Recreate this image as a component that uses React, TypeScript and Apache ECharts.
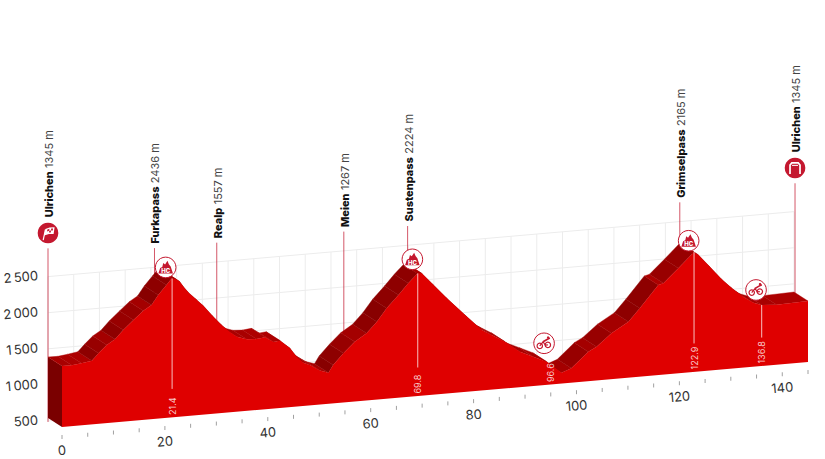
import React, { useEffect, useRef } from "react";
import * as echarts from "echarts";

// Profile (km, metres)
const profileKm = [0, 1.9, 3.8, 5.8, 7.1, 8.7, 10.3, 11.9, 13.9, 15.8, 17.4, 18.7, 20.3, 21.3, 22.2, 22.9, 23.6, 24.6, 26.2, 27.5, 29.4, 31, 32.7, 34, 35.9, 37.8, 39.5, 41.1, 42.4, 44.3, 45.6, 46.9, 48.2, 50.1, 51.8, 52.7, 54.7, 56.9, 59.2, 61.2, 63.1, 65.4, 67.3, 69.1, 69.9, 72.2, 74.8, 78.7, 81.6, 83.5, 86.1, 89, 91.6, 94.2, 97.1, 99, 102.3, 103.9, 106.8, 110.1, 112.3, 115.9, 116.9, 119.8, 122.8, 123.7, 125.9, 128.2, 130.2, 132.4, 134.4, 136, 138.9, 145];
const profileElev = [1345, 1342, 1359, 1382, 1476, 1582, 1651, 1770, 1896, 2013, 2082, 2212, 2341, 2425, 2407, 2370, 2296, 2208, 2097, 2005, 1845, 1720, 1609, 1540, 1492, 1483, 1497, 1422, 1432, 1316, 1191, 1100, 1060, 970, 931, 1032, 1181, 1328, 1430, 1579, 1752, 1922, 2072, 2199, 2195, 2019, 1818, 1539, 1337, 1256, 1147, 990, 906, 820, 650, 698, 909, 968, 1136, 1276, 1447, 1748, 1765, 1954, 2160, 2115, 1939, 1751, 1614, 1483, 1388, 1346, 1332, 1345];

const xTickKm = [0, 5, 10, 15, 20, 25, 30, 35, 40, 45, 50, 55, 60, 65, 70, 75, 80, 85, 90, 95, 100, 105, 110, 115, 120, 125, 130, 135, 140, 145];
const xLabelKm = [0, 20, 40, 60, 80, 100, 120, 140];
const yTicks = [500, 1000, 1500, 2000, 2500];
const yLabels = ["500", "1\u2009000", "1\u2009500", "2\u2009000", "2\u2009500"];

// Named places on the back wall
const placeNames = ["Ulrichen", "Furkapass", "Realp", "Meien", "Sustenpass", "Grimselpass", "Ulrichen"];
const placeHeights = ["1345 m", "2436 m", "1557 m", "1267 m", "2224 m", "2165 m", "1345 m"];
const placeKm = [0, 20.7, 32.8, 57.5, 69.9, 122.8, 145.2];
const placeFootElev = [445, 2000, 1400, 1000, 2000, 2000, 1331];
const placeTopElev = [2850, 2725, 2725, 2725, 2725, 2725, 2850];

// Km marks inside the profile
const markLabels = ["21.4", "69.8", "96.6", "122.9", "136.8"];
const markKm = [21.4, 69.15, 94.9, 122.85, 136];
const markTopElev = [2425, 2199, 0, 2160, 1346];

// Round badges
const climbBadgeKm = [20.15, 68.1, 121.8];
const climbBadgeElev = [2585, 2400, 2324];
const feedBadgeKm = [93.7, 134.9];
const feedBadgeElev = [1078, 1561];
const startEndBadgeElev = 3062;

const RED = "#c4182f";
const FONT = "Inter, 'Noto Sans', sans-serif";
const SLOPE = 0.448;
const DX = 14;
const DY = 9;

function topColor(grade: number) {
  if (grade < 0) return "#a80000";
  if (grade < 25) return "#ad0000";
  if (grade < 50) return "#a40000";
  if (grade < 70) return "#980000";
  if (grade < 90) return "#8e0000";
  return "#880000";
}

function makeOption() {
  const layer = (z: number, build: (P: any) => any[]) => ({
    type: "custom",
    coordinateSystem: "cartesian2d",
    z,
    silent: true,
    clip: false,
    data: [[0, 500]],
    renderItem: (_p: any, api: any) => {
      const P = (km: number, e: number, depth = 0, extra = 0) => {
        const c = api.coord([km, e]);
        return [c[0] - DX * depth, c[1] - km * SLOPE - DY * depth + extra];
      };
      return { type: "group", children: build(P) };
    },
  });
  const line = (a: number[], b: number[], stroke: string, lineWidth = 1, opacity = 1) => ({
    type: "line",
    shape: { x1: a[0], y1: a[1], x2: b[0], y2: b[1] },
    style: { stroke, lineWidth, opacity },
  });
  const circle = (cx: number, cy: number, r: number, style: any) => ({
    type: "circle",
    shape: { cx, cy, r },
    style,
  });
  const poly = (pts: number[][], style: any, cx = 0, cy = 0) => ({
    type: "polygon",
    shape: { points: pts.map((q) => [q[0] + cx, q[1] + cy]) },
    style,
  });
  const pline = (pts: number[][], cx: number, cy: number, stroke: string, lineWidth: number) => ({
    type: "polyline",
    shape: { points: pts.map((q) => [q[0] + cx, q[1] + cy]) },
    style: { stroke, lineWidth, fill: "none" },
  });

  const climbBadge = (c: number[]) => [
    circle(c[0], c[1], 10.3, { fill: "#fff", stroke: RED, lineWidth: 1 }),
    poly(
      [[-7.3, 6], [-5.5, 0.5], [-3.4, -0.5], [-2.4, -4.4], [-0.6, -3], [1.8, -6.6], [3.2, -3.2], [5, -1], [7.3, 6]],
      { fill: RED },
      c[0],
      c[1]
    ),
    {
      type: "text",
      x: c[0],
      y: c[1] + 3,
      style: { text: "HC", fontFamily: FONT, fontWeight: 800, fontSize: 6, fill: "#fff", align: "center", verticalAlign: "middle" },
    },
  ];
  const feedBadge = (c: number[]) => [
    circle(c[0], c[1], 10.3, { fill: "#fff", stroke: RED, lineWidth: 1 }),
    circle(c[0] - 4.3, c[1] + 2.6, 2.7, { fill: "none", stroke: RED, lineWidth: 1.2 }),
    circle(c[0] + 3.8, c[1] + 1.6, 2.7, { fill: "none", stroke: RED, lineWidth: 1.2 }),
    pline([[-4.3, 2.6], [-1, -1.5], [1.2, 1.8], [3.8, 1.6]], c[0], c[1], RED, 1.2),
    pline([[-1, -1.5], [2.5, -3.6], [5.8, -5.2]], c[0], c[1], RED, 1.6),
    circle(c[0] + 4, c[1] - 5.8, 1.2, { fill: RED }),
  ];
  const startBadge = (c: number[]) => [
    circle(c[0], c[1], 10.3, { fill: RED }),
    pline([[-4.8, 7], [-2.6, -3.5]], c[0], c[1], "#fff", 1.2),
    poly([[-2.6, -4], [1.5, -5.5], [6.6, -5.8], [5.6, 1], [1, 1], [-3.8, 2.5]], { fill: "#fff" }, c[0], c[1]),
    poly([[-0.6, -3.6], [1.4, -4.2], [1.2, -2.2], [-1, -1.6]], { fill: RED }, c[0], c[1]),
    poly([[3.2, -4.4], [5, -4.4], [4.8, -2.5], [3, -2.5]], { fill: RED }, c[0], c[1]),
    poly([[1.2, -2.2], [3, -2.5], [2.8, -0.6], [1, -0.4]], { fill: RED }, c[0], c[1]),
  ];
  const endBadge = (c: number[]) => [
    circle(c[0], c[1], 10.3, { fill: RED }),
    pline([[-5, 6], [-5, -3], [-3.2, -5], [3.2, -5], [5, -3], [5, 6]], c[0], c[1], "#fff", 1.7),
    pline([[-3, -2.6], [3, -2.6]], c[0], c[1], "#fff", 1),
  ];

  const series = [
    // back wall grid
    layer(1, (P) => [
      ...yTicks.map((e) => line(P(0, e, 1, 3), P(145, e, 1, 3), "#ececec")),
      ...xTickKm.map((k) => line(P(k, 500, 1, 3), P(k, 2500, 1, 3), "#ececec")),
    ]),
    // poles
    layer(2, (P) =>
      placeKm.map((k, i) => line(P(k, placeFootElev[i], 1), P(k, placeTopElev[i], 1), RED, 1, 0.72))
    ),
    // left side and top face of the road
    layer(3, (P) => [
      poly([P(0, 500, 1), P(0, 500), P(0, profileElev[0]), P(0, profileElev[0], 1)], { fill: "#7a0000" }),
      ...profileKm.slice(1).map((k, i) => {
        const k0 = profileKm[i];
        const e0 = profileElev[i];
        const e1 = profileElev[i + 1];
        const col = topColor((e1 - e0) / (k - k0));
        return poly([P(k0, e0), P(k, e1), P(k, e1, 1), P(k0, e0, 1)], { fill: col, stroke: col, lineWidth: 0.4 });
      }),
    ]),
    // front face
    layer(4, (P) => [
      poly(
        [P(0, 500), ...profileKm.map((k, i) => P(k, profileElev[i])), P(145, 500)],
        { fill: "#df0000" }
      ),
    ]),
    // km marks inside the profile
    layer(5, (P) => [
      ...markKm.flatMap((k, i) => {
        const items: any[] = [];
        if (markTopElev[i] > 895) items.push(line(P(k, markTopElev[i]), P(k, 895), "#ffffff", 1, 0.75));
        const b = P(k, 500);
        items.push({
          type: "text",
          x: b[0],
          y: b[1] - 2.5,
          rotation: Math.PI / 2,
          style: { text: markLabels[i], fontFamily: FONT, fontSize: 9, fill: "rgba(255,255,255,0.8)", align: "left", verticalAlign: "middle" },
        });
        return items;
      }),
    ]),
    // badges
    layer(6, (P) => [
      ...climbBadgeKm.flatMap((k, i) => climbBadge(P(k, climbBadgeElev[i]))),
      ...feedBadgeKm.flatMap((k, i) => feedBadge(P(k, feedBadgeElev[i]))),
      ...startBadge(P(0, startEndBadgeElev, 1)),
      ...endBadge(P(145.2, startEndBadgeElev, 1)),
    ]),
    // place labels
    layer(7, (P) =>
      placeKm.map((k, i) => {
        const isEnd = i === 0 || i === placeKm.length - 1;
        const top = P(k, placeTopElev[i], 1);
        return {
          type: "text",
          x: top[0] + 1,
          y: top[1] - (isEnd ? 31 : 4.5),
          rotation: Math.PI / 2,
          style: {
            text: `{b|${placeNames[i]}} {r|${placeHeights[i]}}`,
            align: "left",
            verticalAlign: "middle",
            rich: {
              b: { fontFamily: FONT, fontWeight: 800, fontSize: 11, fill: "#111" },
              r: { fontFamily: FONT, fontWeight: 400, fontSize: 11, fill: "#444" },
            },
          },
        };
      })
    ),
    // axes
    layer(8, (P) => [
      ...xTickKm.map((k) => line(P(k, 500, 0, 8), P(k, 500, 0, 12), "#a0a0a0")),
      ...xLabelKm.map((k) => {
        const b = P(k, 500, 0, 23);
        return {
          type: "text",
          x: b[0],
          y: b[1],
          rotation: Math.atan(SLOPE / 5.145),
          style: { text: String(k), fontFamily: FONT, fontSize: 13, fill: "#333", align: "center", verticalAlign: "middle" },
        };
      }),
      ...yTicks.map((e, i) => {
        const b = P(0, e, 1, 1.5);
        return {
          type: "text",
          x: b[0] - 10,
          y: b[1],
          rotation: Math.atan(SLOPE / 5.145),
          style: { text: yLabels[i], fontFamily: FONT, fontSize: 13, fill: "#333", align: "right", verticalAlign: "middle" },
        };
      }),
    ]),
  ];

  return {
    animation: false,
    backgroundColor: "#ffffff",
    grid: { left: 62, width: 746, top: 246.5, height: 180.5 },
    xAxis: { type: "value", min: 0, max: 145, show: false },
    yAxis: { type: "value", min: 500, max: 3000, show: false },
    series,
  };
}

export default function App() {
  const ref = useRef<HTMLDivElement>(null);
  useEffect(() => {
    document.body.style.margin = "0";
    const chart = echarts.init(ref.current!, undefined, { renderer: "svg" });
    chart.setOption(makeOption() as any);
    return () => chart.dispose();
  }, []);
  return <div ref={ref} style={{ width: 825, height: 459 }} />;
}
